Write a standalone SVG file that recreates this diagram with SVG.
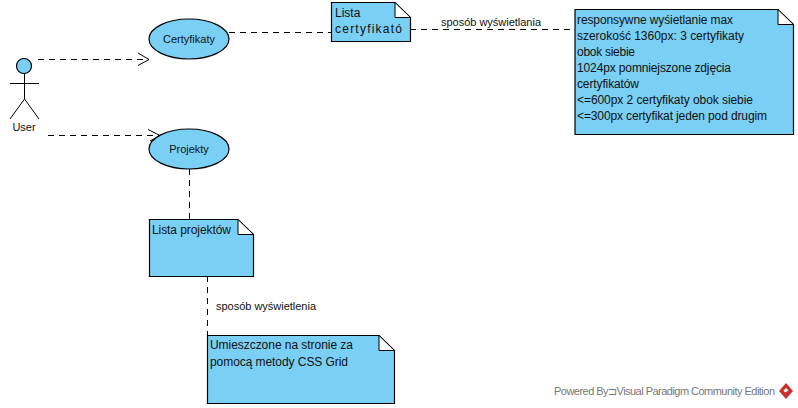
<svg xmlns="http://www.w3.org/2000/svg" width="798" height="408" viewBox="0 0 798 408">
<style>
text{font-family:"Liberation Sans",Arial,sans-serif;font-size:12px;fill:#111}
.s{fill:#7acff5;stroke:#000;stroke-width:1.2}
.f{fill:#fff;stroke:#000;stroke-width:1}
.l{fill:none;stroke:#000;stroke-width:1}
.d{fill:none;stroke:#000;stroke-width:1;stroke-dasharray:6 5}
.c{text-anchor:middle;font-size:11px}
.k{font-size:11px}
</style>
<rect width="798" height="408" fill="#fff"/>
<g id="connectors">
<path class="d" d="M38 59.500H149"/>
<path class="l" d="M138 53L149 59.500L138 65.500"/>
<path class="d" d="M48 135.500H160"/>
<path class="l" d="M148 129.500L160 135.500L150 141"/>
<path class="d" d="M229 32.500H331"/>
<path class="d" d="M410 29.500H575"/>
<path class="d" d="M189.500 169V219"/>
<path class="d" d="M207.500 276V335"/>
<text id="label-certyfikaty" class="k" x="441" y="26" textLength="100">sposób wyświetlania</text>
<text id="label-projekty" class="k" x="216" y="310" textLength="100">sposób wyświetlenia</text>
</g>
<g id="user">
<circle class="s" cx="24" cy="66" r="7.500"/>
<path class="l" d="M24.500 74V99M10 83.500H39M24.500 99L10 119M24.500 99L39 119"/>
<text class="c" x="24" y="131">User</text>
</g>
<g id="certyfikaty">
<ellipse class="s" cx="189" cy="39" rx="40" ry="20"/>
<text class="c" x="189" y="43">Certyfikaty</text>
</g>
<g id="projekty">
<ellipse class="s" cx="189" cy="149" rx="40" ry="20"/>
<text class="c" x="189" y="153">Projekty</text>
</g>
<g id="note-lista-certyfikatow">
<path class="s" d="M331.500 2.500H395L410.500 17.500V41.500H331.500Z"/>
<path class="f" d="M395 2.500V17.500H410.500Z"/>
<text x="335" y="17">Lista</text>
<text x="335" y="33" textLength="67">certyfikató</text>
</g>
<g id="note-responsywne">
<path class="s" d="M575 9.500H778L793.500 24.500V134.500H575Z"/>
<path class="f" d="M778 9.500V24.500H793.500Z"/>
<text x="577" y="24" textLength="156">responsywne wyśietlanie max</text>
<text x="577" y="40" textLength="167">szerokość 1360px: 3 certyfikaty</text>
<text x="577" y="56" textLength="58">obok siebie</text>
<text x="577" y="72" textLength="154">1024px pomniejszone zdjęcia</text>
<text x="577" y="88" textLength="62">certyfikatów</text>
<text x="577" y="104" textLength="176">&lt;=600px 2 certyfikaty obok siebie</text>
<text x="577" y="120" textLength="190">&lt;=300px certyfikat jeden pod drugim</text>
</g>
<g id="note-lista-projektow">
<path class="s" d="M149.500 219.500H238L253.500 234.500V276.500H149.500Z"/>
<path class="f" d="M238 219.500V234.500H253.500Z"/>
<text x="152" y="234" textLength="79">Lista projektów</text>
</g>
<g id="note-umieszczone">
<path class="s" d="M207.500 335.500H379L394.500 350.500V403.500H207.500Z"/>
<path class="f" d="M379 335.500V350.500H394.500Z"/>
<text x="210" y="349" textLength="143">Umieszczone na stronie za</text>
<text x="210" y="366" textLength="138">pomocą metody CSS Grid</text>
</g>
<g id="watermark">
<text x="554" y="395" textLength="221" style="font-size:11px;fill:#777">Powered By⊐Visual Paradigm Community Edition</text>
<path d="M786 383L793 391L786 399L779 391Z" fill="#c8312d"/>
<path d="M786 388L788.500 390.500L785 392.500L783.500 390.500Z" fill="#fff"/>
</g>
</svg>
